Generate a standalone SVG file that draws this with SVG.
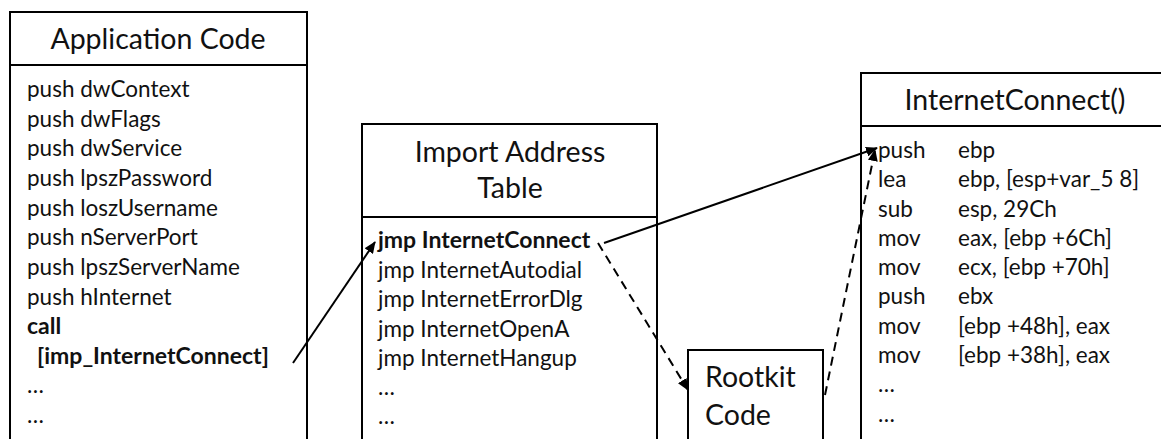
<svg xmlns="http://www.w3.org/2000/svg" width="1161" height="439" viewBox="0 0 1161 439">
<style>
.box{fill:#fff;stroke:#000;stroke-width:2}
.div{stroke:#000;stroke-width:2}
.title{font-family:Lato,"Liberation Sans",sans-serif;font-size:28.5px;fill:#111;text-anchor:middle}
.code{font-family:Lato,"Liberation Sans",sans-serif;font-size:22.5px;fill:#111}
.b{font-weight:bold;font-size:23px}
.conn{fill:none;stroke:#000;stroke-width:2}
.dash{stroke-dasharray:9 6}
</style>
<defs>
<marker id="ah" viewBox="0 0 12 10" refX="11" refY="5" markerWidth="12" markerHeight="10" markerUnits="userSpaceOnUse" orient="auto">
<path d="M0,0 L12,5 L0,10 z" fill="#000"/>
</marker>
</defs>
<rect width="1161" height="439" fill="#fff"/>
<g id="app">
<rect class="box" x="10" y="12" width="297" height="440"/>
<line class="div" x1="10" y1="65" x2="307" y2="65"/>
<text class="title" x="158" y="49">Application Code</text>
<text class="code" x="27" y="97">push dwContext</text>
<text class="code" x="27" y="127">push dwFlags</text>
<text class="code" x="27" y="156">push dwService</text>
<text class="code" x="27" y="186">push lpszPassword</text>
<text class="code" x="27" y="216">push loszUsername</text>
<text class="code" x="27" y="245">push nServerPort</text>
<text class="code" x="27" y="275">push lpszServerName</text>
<text class="code" x="27" y="305">push hInternet</text>
<text class="code b" x="27" y="334">call</text>
<text class="code b" x="37" y="364">[imp_InternetConnect]</text>
<text class="code" x="27" y="393">…</text>
<text class="code" x="27" y="423">…</text>
</g>
<g id="iat">
<rect class="box" x="362" y="124" width="295" height="330"/>
<line class="div" x1="362" y1="217" x2="657" y2="217"/>
<text class="title" x="510" y="162">Import Address</text>
<text class="title" x="510" y="198">Table</text>
<text class="code b" x="378" y="248">jmp InternetConnect</text>
<text class="code" x="378" y="278">jmp InternetAutodial</text>
<text class="code" x="378" y="307">jmp InternetErrorDlg</text>
<text class="code" x="378" y="337">jmp InternetOpenA</text>
<text class="code" x="378" y="366">jmp InternetHangup</text>
<text class="code" x="378" y="395">…</text>
<text class="code" x="378" y="424">…</text>
</g>
<g id="rootkit">
<rect class="box" x="688" y="350" width="135" height="110"/>
<text class="title" x="705" y="387" style="text-anchor:start">Rootkit</text>
<text class="title" x="705" y="425" style="text-anchor:start">Code</text>
</g>
<g id="internetconnect">
<rect class="box" x="861" y="73" width="320" height="390"/>
<line class="div" x1="861" y1="126" x2="1181" y2="126"/>
<text class="title" x="1015" y="110">InternetConnect()</text>
<text class="code" x="878" y="158">push</text><text class="code" x="958" y="158">ebp</text>
<text class="code" x="878" y="187">lea</text><text class="code" x="958" y="187">ebp, [esp+var_5 8]</text>
<text class="code" x="878" y="217">sub</text><text class="code" x="958" y="217">esp, 29Ch</text>
<text class="code" x="878" y="246">mov</text><text class="code" x="958" y="246">eax, [ebp +6Ch]</text>
<text class="code" x="878" y="275">mov</text><text class="code" x="958" y="275">ecx, [ebp +70h]</text>
<text class="code" x="878" y="304">push</text><text class="code" x="958" y="304">ebx</text>
<text class="code" x="878" y="334">mov</text><text class="code" x="958" y="334">[ebp +48h], eax</text>
<text class="code" x="878" y="363">mov</text><text class="code" x="958" y="363">[ebp +38h], eax</text>
<text class="code" x="878" y="392">…</text>
<text class="code" x="878" y="422">…</text>
</g>
<g id="connectors">
<line class="conn" x1="293" y1="363" x2="375" y2="242" marker-end="url(#ah)"/>
<line class="conn" x1="604" y1="243" x2="877" y2="148" marker-end="url(#ah)"/>
<line class="conn dash" x1="598" y1="243" x2="688" y2="390" marker-end="url(#ah)"/>
<line class="conn dash" x1="825" y1="395" x2="875" y2="150" marker-end="url(#ah)"/>
</g>
</svg>
